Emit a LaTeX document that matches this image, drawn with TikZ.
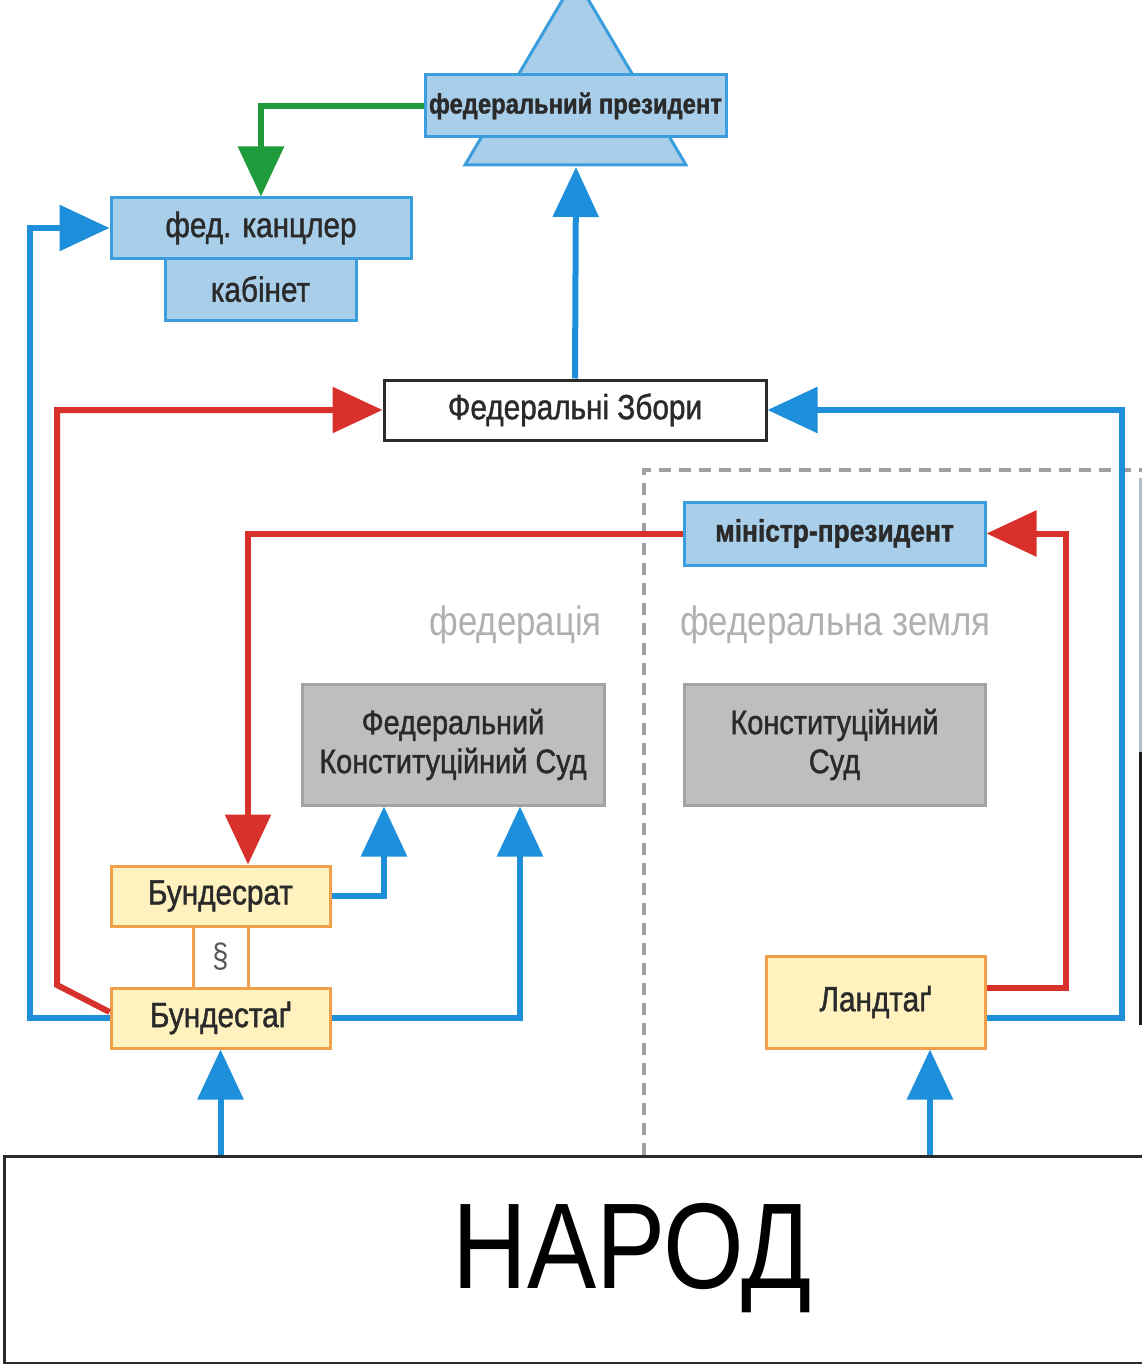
\documentclass[tikz,border=0pt]{standalone}
\usepackage{fontspec}
\setmainfont{Liberation Sans}[FakeStretch=0.85]
\newfontfamily\labfont{Liberation Sans}[FakeStretch=0.85,FakeBold=1.2]
\usetikzlibrary{arrows.meta,calc}
\definecolor{lblue}{HTML}{A9CEEA}
\definecolor{bblue}{HTML}{3A9DDD}
\definecolor{arrblue}{HTML}{1E8FDA}
\definecolor{arrred}{HTML}{D8302A}
\definecolor{arrgreen}{HTML}{1F9B3B}
\definecolor{yfill}{HTML}{FFF2BF}
\definecolor{yborder}{HTML}{EFA048}
\definecolor{gfill}{HTML}{BEBEBE}
\definecolor{gborder}{HTML}{A3A3A3}
\definecolor{gtext}{HTML}{B0B0B0}
\definecolor{dashgray}{HTML}{A0A0A0}
\definecolor{txt}{HTML}{2A2A2A}
\definecolor{stripa}{HTML}{B4BCCB}
\definecolor{stripb}{HTML}{1E1E1E}
\tikzset{
  boxbase/.style={line width=3pt, inner sep=0pt, text=txt, align=center,
    font=\labfont\fontsize{35}{40}\selectfont},
  bluebox/.style={boxbase, draw=bblue, fill=lblue},
  yelbox/.style={boxbase, draw=yborder, fill=yfill},
  graybox/.style={boxbase, draw=gborder, fill=gfill},
  whitebox/.style={boxbase, draw=txt, fill=white},
  arr/.style={line width=6pt, line join=miter,
    -{Triangle[width=45pt,length=50pt]}},
  bluearr/.style={arr, draw=arrblue},
  redarr/.style={arr, draw=arrred},
  greenarr/.style={arr, draw=arrgreen},
  regionlabel/.style={text=gtext, inner sep=0pt, font=\fontsize{41}{46}\selectfont},
  divider/.style={draw=dashgray, line width=4pt, dash pattern=on 12pt off 8pt},
  paraline/.style={draw=yborder, line width=3pt}
}
\begin{document}
\begin{tikzpicture}[x=1pt,y=-1pt]
\useasboundingbox (0,0) rectangle (1142,1364);
\fill[white] (0,0) rectangle (1142,1364);

% helper coordinates
\coordinate (lb) at (30,0);
\coordinate (rb) at (1122,1018);
\coordinate (rr) at (1066,988);
\coordinate (rx) at (248,0);
\coordinate (c384) at (384,0);
\coordinate (c520) at (520,0);
\coordinate (c930) at (930,0);
\coordinate (trib) at (576,167);
\coordinate (dtop) at (644,470);
\coordinate (dbot) at (644,1155);
\coordinate (dright) at (1145,470);

% dashed divider
\draw[divider] (dbot) -- (dtop) -- (dright);

% president triangle and box
\draw[bblue, fill=lblue, line width=3pt] (575.5,-22) -- (686,165) -- (465,165) -- cycle;
\node[bluebox, minimum width=301pt, minimum height=62pt,
  font=\labfont\bfseries\fontsize{28}{32}\selectfont] (pres) at (575.5,106) {федеральний президент};

% chancellor and cabinet
\node[bluebox, minimum width=191pt, minimum height=62pt] (cab) at (260.5,289) {кабінет};
\node[bluebox, minimum width=300pt, minimum height=60pt] (chan) at (261,228) {фед. канцлер};

% federal assembly
\node[whitebox, minimum width=382pt, minimum height=60pt] (fz) at (575,410) {Федеральні Збори};

% minister-president
\node[bluebox, minimum width=301pt, minimum height=63pt,
  font=\labfont\bfseries\fontsize{31}{36}\selectfont] (mp) at (834.5,533.5) {міністр-президент};

% region labels
\node[regionlabel, anchor=east] (lfed) at (602,625) {федерація};
\node[regionlabel, anchor=west] (lland) at (680,625) {федеральна земля};

% courts
\node[graybox, minimum width=302pt, minimum height=121pt,
  font=\labfont\fontsize{34}{39}\selectfont] (fcc) at (453,744.5) {Федеральний\\Конституційний Суд};
\node[graybox, minimum width=301pt, minimum height=121pt,
  font=\labfont\fontsize{34}{39}\selectfont] (lcc) at (834.5,744.5) {Конституційний\\Суд};

% parliaments
\node[yelbox, minimum width=219pt, minimum height=60pt] (brat) at (220.5,896) {Бундесрат};
\node[yelbox, minimum width=219pt, minimum height=60pt] (btag) at (220.5,1018) {Бундестаґ};
\node[yelbox, minimum width=219pt, minimum height=92pt] (ltag) at (875.5,1002) {\raisebox{6pt}{Ландтаґ}};

% paragraph link
\draw[paraline] (brat.south -| 193,0) -- (btag.north -| 193,0);
\draw[paraline] (brat.south -| rx) -- (btag.north -| rx);
\node[text=txt!80, inner sep=0pt, font=\fontsize{34}{38}\selectfont] (para) at (220.5,957) {§};

% people
\node[draw=txt, line width=3pt, minimum width=1150pt, minimum height=207pt,
  inner sep=0pt, anchor=north west] (narod) at (3,1155) {};
\node[inner sep=0pt, text=black, font=\fontsize{122}{130}\selectfont] (narodtxt) at (632,1258) {НАРОД};

% photo strip at right edge
\fill[stripa] (1139,478) rectangle (1142,752);
\fill[stripb] (1139,752) rectangle (1142,1025);

% connectors
\draw[greenarr] (pres.west) -| (chan.north);
\draw[bluearr] (btag.west) -- (btag.west -| lb) |- (chan.west);
\draw[bluearr] (fz.north) -- (trib);
\draw[redarr] ($(btag.west)+(0,-6)$) -- (57,985) |- (fz.west);
\draw[bluearr] (ltag.east |- rb) -- (rb) |- (fz.east);
\draw[redarr] (ltag.east |- rr) -- (rr) |- (mp.east);
\draw[redarr] (mp.west) -| (rx |- brat.north);
\draw[bluearr] (brat.east) -| (c384 |- fcc.south);
\draw[bluearr] (btag.east) -| (c520 |- fcc.south);
\draw[bluearr] (btag.south |- narod.north) -- (btag.south);
\draw[bluearr] (c930 |- narod.north) -- (c930 |- ltag.south);
\end{tikzpicture}
\end{document}
